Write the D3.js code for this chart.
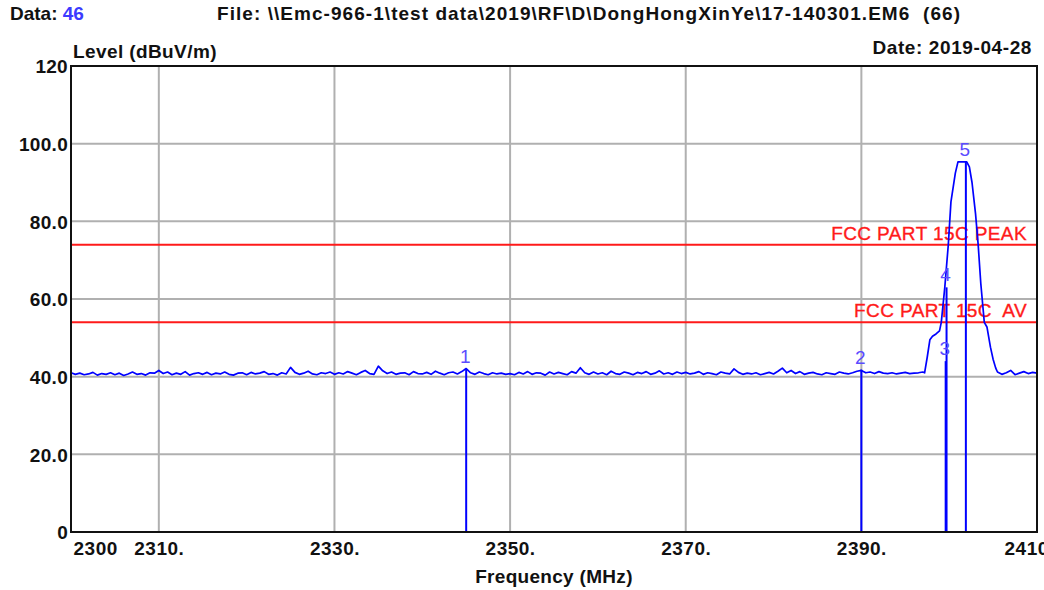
<!DOCTYPE html>
<html>
<head>
<meta charset="utf-8">
<script src="https://cdn.jsdelivr.net/npm/d3@7"></script>
<style>
  html, body { margin: 0; padding: 0; background: #ffffff; }
  svg { display: block; }
  text { font-family: "Liberation Sans", Arial, sans-serif; }
</style>
</head>
<body>
<svg id="chart" width="1044" height="590"></svg>
<script>
// ---------- data ----------
const yTicks = [0, 20, 40, 60, 80, 100, 120];
const yTickLabels = ["0", "20.0", "40.0", "60.0", "80.0", "100.0", "120"];
const xTicks = [2300, 2310, 2330, 2350, 2370, 2390, 2410];
const xTickLabels = ["2300", "2310.", "2330.", "2350.", "2370.", "2390.", "2410."];
const xGrid = [2310, 2330, 2350, 2370, 2390];
const yGrid = [20, 40, 60, 80, 100];

// noise floor sweep 2300.0 .. 2397.0 MHz, 0.5 MHz steps
const noiseStart = 2300.0;
const noiseStep = 0.5;
const noiseLevels = [
  41.0,40.6,40.9,40.5,40.7,41.1,40.4,40.8,40.6,41.0,40.5,40.9,40.3,40.7,41.2,40.6,40.8,40.4,41.0,40.9,
  41.6,40.8,41.2,40.5,40.9,40.6,41.3,40.4,40.8,41.0,40.6,41.1,40.5,40.9,40.7,41.2,40.6,40.4,40.9,41.0,
  40.5,41.1,40.7,40.9,41.3,40.6,40.8,40.4,41.0,40.7,42.4,41.1,40.6,40.9,41.4,40.7,40.5,41.0,40.8,41.2,
  40.6,41.0,40.7,41.3,40.9,40.5,41.1,41.6,40.8,40.6,42.7,41.5,40.8,41.2,40.6,40.9,41.0,40.5,41.3,40.8,
  40.7,41.1,40.6,41.4,40.9,40.5,41.0,41.2,40.7,41.3,42.1,41.0,40.6,41.2,40.8,40.5,41.0,40.7,40.9,40.6,
  40.8,40.5,41.1,40.7,41.3,40.6,41.0,40.9,40.4,41.2,40.7,41.1,40.8,40.5,41.3,40.9,42.3,41.0,40.6,41.2,
  40.7,41.0,40.5,41.4,40.8,40.6,41.2,40.9,40.5,41.1,40.8,41.3,40.6,40.9,41.5,40.7,41.0,40.6,41.2,40.8,
  41.1,40.7,40.9,41.3,40.6,41.0,40.8,40.5,41.2,40.9,40.7,42.0,41.1,40.6,40.9,40.7,41.0,40.5,40.8,41.1,
  40.7,41.4,42.2,41.0,41.6,40.8,41.3,40.6,40.9,41.1,40.7,40.5,41.0,40.8,40.6,41.2,40.9,40.7,41.0,41.4,
  41.6,41.0,41.2,40.8,41.3,40.9,40.8,41.0,40.7,40.9,41.1,40.8,40.9,41.0,41.2
];

// emission region (MHz, dBuV/m)
const emissionFreq = [2397.2, 2397.5, 2397.8, 2398.1, 2398.5, 2398.9, 2399.1, 2399.5, 2399.9, 2400.2,
  2400.7, 2401.0, 2401.5, 2402.0, 2402.3, 2402.6, 2403.0, 2403.3, 2403.6, 2404.0, 2404.3, 2404.7, 2405.0, 2405.3];
const emissionLevel = [41.0, 45.0, 49.5, 50.4, 51.0, 51.8, 54.0, 63.0, 74.0, 85.0,
  92.4, 95.3, 95.3, 95.3, 94.0, 90.0, 82.0, 74.0, 64.0, 54.0, 52.8, 47.6, 44.5, 42.2];

// tail sweep 2405.5 .. 2410.0 MHz, 0.5 MHz steps
const tailStart = 2405.5;
const tailStep = 0.5;
const tailLevels = [41.2, 40.6, 41.0, 41.6, 40.5, 40.9, 41.3, 40.8, 41.1, 40.9];

// markers
const markerIds = ["1", "2", "3", "4", "5"];
const markerFreq = [2345.0, 2390.0, 2399.6, 2399.7, 2401.9];
const markerLevel = [41.9, 41.8, 44.0, 63.0, 95.3];

// limit lines
const limitNames = ["FCC PART 15C PEAK", "FCC PART 15C  AV"];
const limitLevels = [74, 54];

// ---------- drawing ----------
const svg = d3.select("#chart");
const pLeft = 71, pRight = 1037, pTop = 66, pBottom = 532;

const x = d3.scaleLinear().domain([2300, 2410]).range([pLeft, pRight]);
const y = d3.scaleLinear().domain([0, 120]).range([pBottom, pTop]);

const FONT = '"Liberation Sans", Arial, sans-serif';

// header
const hdr = svg.append("text").attr("x", 10).attr("y", 20)
  .attr("font-size", 19).attr("font-weight", "bold").attr("fill", "#111");
hdr.append("tspan").text("Data: ");
hdr.append("tspan").attr("fill", "#3b3bff").text("46");

svg.append("text").attr("x", 217).attr("y", 20)
  .attr("font-size", 19).attr("font-weight", "bold").attr("fill", "#111")
  .attr("letter-spacing", 1.05)
  .style("white-space", "pre")
  .text("File: \\\\Emc-966-1\\test data\\2019\\RF\\D\\DongHongXinYe\\17-140301.EM6  (66)");

svg.append("text").attr("x", 1032).attr("y", 54).attr("text-anchor", "end")
  .attr("font-size", 19).attr("font-weight", "bold").attr("fill", "#111")
  .attr("letter-spacing", 0.6)
  .text("Date: 2019-04-28");

svg.append("text").attr("x", 73).attr("y", 58)
  .attr("font-size", 19).attr("font-weight", "bold").attr("fill", "#111")
  .attr("letter-spacing", 0.4)
  .text("Level (dBuV/m)");

svg.append("text").attr("x", (pLeft + pRight) / 2).attr("y", 583).attr("text-anchor", "middle")
  .attr("font-size", 19).attr("font-weight", "bold").attr("fill", "#111")
  .attr("letter-spacing", 0.3)
  .text("Frequency (MHz)");

// grid
svg.append("g").selectAll("line").data(xGrid).join("line")
  .attr("x1", d => x(d)).attr("x2", d => x(d)).attr("y1", pTop).attr("y2", pBottom)
  .attr("stroke", "#b0b0b0").attr("stroke-width", 2);
svg.append("g").selectAll("line").data(yGrid).join("line")
  .attr("x1", pLeft).attr("x2", pRight).attr("y1", d => y(d)).attr("y2", d => y(d))
  .attr("stroke", "#b0b0b0").attr("stroke-width", 2);

// limit lines
const lim = svg.append("g");
lim.selectAll("line").data(limitLevels).join("line")
  .attr("x1", pLeft).attr("x2", pRight).attr("y1", d => y(d)).attr("y2", d => y(d))
  .attr("stroke", "#ff1a1a").attr("stroke-width", 2);
lim.selectAll("text").data(limitNames).join("text")
  .attr("x", 1027).attr("y", (d, i) => y(limitLevels[i]) - 5)
  .attr("text-anchor", "end").attr("font-size", 19).attr("fill", "#ff1a1a")
  .attr("stroke", "#ff1a1a").attr("stroke-width", 0.35)
  .attr("letter-spacing", 0.4)
  .style("white-space", "pre")
  .text(d => d);

// trace
const trace = [];
noiseLevels.forEach((v, i) => trace.push([noiseStart + i * noiseStep, v]));
emissionFreq.forEach((f, i) => trace.push([f, emissionLevel[i]]));
tailLevels.forEach((v, i) => trace.push([tailStart + i * tailStep, v]));

svg.append("path").datum(trace)
  .attr("d", d3.line().x(d => x(d[0])).y(d => y(d[1])))
  .attr("fill", "none").attr("stroke", "#0000ff").attr("stroke-width", 1.7)
  .attr("stroke-linejoin", "round");

// markers
const mk = svg.append("g");
mk.selectAll("line").data(markerFreq).join("line")
  .attr("x1", d => x(d)).attr("x2", d => x(d))
  .attr("y1", pBottom).attr("y2", (d, i) => y(markerLevel[i]))
  .attr("stroke", "#0000ff").attr("stroke-width", 2);
mk.selectAll("text").data(markerIds).join("text")
  .attr("x", (d, i) => x(markerFreq[i]) - 1)
  .attr("y", (d, i) => y(markerLevel[i]) - 6)
  .attr("text-anchor", "middle").attr("font-size", 19).attr("fill", "#5a4bff")
  .text(d => d);

// axes
const yAxis = d3.axisLeft(y).tickValues(yTicks).tickSize(0)
  .tickFormat((d, i) => yTickLabels[i]);
const gy = svg.append("g").attr("transform", `translate(${pLeft},0)`).call(yAxis);
gy.select(".domain").remove();
gy.selectAll("text").attr("x", -3).attr("dy", "0.36em")
  .attr("font-family", FONT).attr("font-size", 19).attr("font-weight", "bold").attr("fill", "#111")
  .attr("letter-spacing", 0.3);

const xAxis = d3.axisBottom(x).tickValues(xTicks).tickSize(0)
  .tickFormat((d, i) => xTickLabels[i]);
const gx = svg.append("g").attr("transform", `translate(0,${pBottom})`).call(xAxis);
gx.select(".domain").remove();
gx.selectAll("text").attr("y", 23).attr("dy", 0)
  .attr("font-family", FONT).attr("font-size", 19).attr("font-weight", "bold").attr("fill", "#111")
  .attr("letter-spacing", 0.5);
gx.selectAll(".tick").filter(d => d === 2300).select("text").attr("text-anchor", "start").attr("x", 2);
gx.selectAll(".tick").filter(d => d === 2410).select("text").attr("text-anchor", "start").attr("x", -33);

// frame
svg.append("rect").attr("x", pLeft).attr("y", pTop).attr("width", pRight - pLeft).attr("height", pBottom - pTop)
  .attr("fill", "none").attr("stroke", "#111").attr("stroke-width", 2);
</script>
</body>
</html>
